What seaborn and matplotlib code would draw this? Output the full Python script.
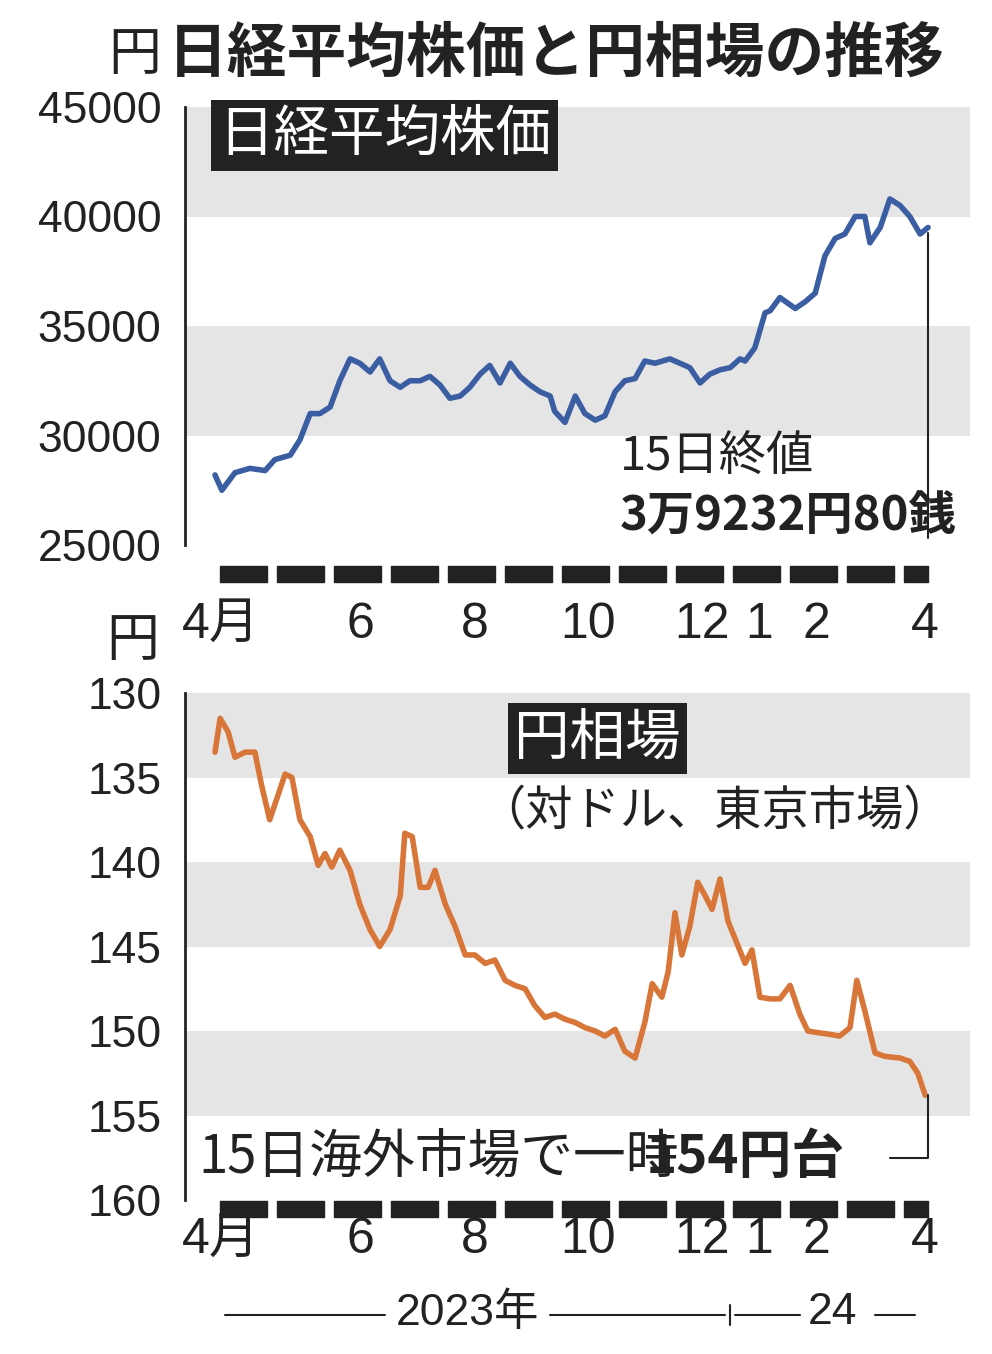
import numpy as np
import pandas as pd
import matplotlib
matplotlib.use("Agg")
import matplotlib.pyplot as plt
import seaborn as sns

# x in months since 2023-04-01 (0 = start of April 2023)
nikkei_x = [0, 0.12, 0.35, 0.61, 0.88, 1.05, 1.32, 1.49, 1.67, 1.84, 2.02, 2.19, 2.37, 2.54, 2.72, 2.89, 3.07, 3.25, 3.42,
            3.6, 3.77, 3.95, 4.12, 4.3, 4.47, 4.65, 4.82, 5.0, 5.18, 5.35, 5.53, 5.7, 5.88, 5.96, 6.14, 6.32, 6.49,
            6.67, 6.84, 7.02, 7.19, 7.37, 7.54, 7.72, 7.98, 8.33, 8.51, 8.68, 8.86, 9.04, 9.21, 9.3, 9.47, 9.65, 9.74,
            9.91, 10.18, 10.35, 10.53, 10.7, 10.88, 11.05, 11.23, 11.4, 11.49, 11.67, 11.84, 12.02, 12.19, 12.37, 12.51]
nikkei_y = [28200, 27500, 28300, 28500, 28400, 28900, 29100, 29800, 31000, 31000, 31300, 32500, 33500, 33300, 32900,
            33500, 32500, 32200, 32500, 32500, 32700, 32300, 31700, 31800, 32200, 32800, 33200, 32400, 33300, 32700,
            32300, 32000, 31800, 31100, 30600, 31800, 31000, 30700, 30900, 32000, 32500, 32600, 33400, 33300, 33500,
            33100, 32400, 32800, 33000, 33100, 33500, 33400, 34000, 35600, 35700, 36300, 35800, 36100, 36500, 38200,
            39000, 39200, 40000, 40000, 38800, 39500, 40800, 40500, 40000, 39200, 39500]

yen_x = [0, 0.09, 0.23, 0.35, 0.53, 0.7, 0.82, 0.96, 1.11, 1.23, 1.35, 1.49, 1.67, 1.81, 1.93, 2.05, 2.19, 2.37, 2.54,
         2.72, 2.89, 3.07, 3.25, 3.33, 3.46, 3.6, 3.74, 3.86, 4.04, 4.21, 4.39, 4.56, 4.74, 4.91, 5.09, 5.26, 5.44,
         5.61, 5.79, 5.96, 6.14, 6.32, 6.49, 6.67, 6.84, 7.02, 7.19, 7.37, 7.54, 7.67, 7.84, 7.95, 8.07, 8.19, 8.33,
         8.47, 8.6, 8.72, 8.86, 9.0, 9.12, 9.3, 9.42, 9.56, 9.74, 9.91, 10.09, 10.26, 10.4, 10.58, 10.79, 10.96,
         11.14, 11.26, 11.4, 11.58, 11.75, 12.02, 12.19, 12.33, 12.46]
yen_y = [133.5, 131.5, 132.3, 133.8, 133.5, 133.5, 135.5, 137.5, 136.0, 134.8, 135.0, 137.5, 138.5, 140.2, 139.5,
         140.3, 139.3, 140.5, 142.5, 144.0, 145.0, 144.0, 142.0, 138.3, 138.5, 141.5, 141.5, 140.5, 142.5, 143.8,
         145.5, 145.5, 146.0, 145.8, 147.0, 147.3, 147.5, 148.5, 149.2, 149.0, 149.3, 149.5, 149.8, 150.0, 150.3,
         149.9, 151.2, 151.6, 149.5, 147.2, 148.0, 146.5, 143.0, 145.5, 143.8, 141.2, 142.0, 142.8, 141.0, 143.5,
         144.5, 146.0, 145.2, 148.0, 148.1, 148.1, 147.3, 149.0, 150.0, 150.1, 150.2, 150.3, 149.8, 147.0, 148.8,
         151.3, 151.5, 151.6, 151.8, 152.5, 153.8]

month_labels = ["4月", "6", "8", "10", "12", "1", "2", "4"]
month_pos = [0, 2, 4, 6, 8, 9, 10, 12]

nikkei_ticks = [25000, 30000, 35000, 40000, 45000]
yen_ticks = [130, 135, 140, 145, 150, 155, 160]

df_n = pd.DataFrame({"m": nikkei_x, "v": nikkei_y})
df_y = pd.DataFrame({"m": yen_x, "v": yen_y})

sns.set_style("white")
plt.rcParams["font.family"] = ["Noto Sans CJK JP", "DejaVu Sans"]
LAT = ["Liberation Sans", "Noto Sans CJK JP"]
INK = "#222222"

W, H = 992, 1354
fig = plt.figure(figsize=(W / 100, H / 100), dpi=100)


def px(x, y):
    return x / W, 1 - y / H


def axes_px(l, t, r, b):
    return fig.add_axes([l / W, 1 - b / H, (r - l) / W, (b - t) / H])


XMIN, XMAX = (185 - 215) / 57, (970 - 215) / 57
GRAY = "#e5e5e5"


def style_axis(ax, ticks, bands, bar_y, label_y):
    for a, b in bands:
        ax.axhspan(a, b, color=GRAY, lw=0, zorder=0)
    ax.set_xlim(XMIN, XMAX)
    for s in ["top", "right", "bottom"]:
        ax.spines[s].set_visible(False)
    ax.spines["left"].set_linewidth(2)
    ax.spines["left"].set_color(INK)
    ax.set_yticks(ticks)
    ax.set_yticklabels([str(t) for t in ticks], family=LAT, fontsize=32, color=INK)
    ax.tick_params(axis="y", length=14, width=2, color=INK, pad=3)
    ax.set_xticks([])
    ax.set_xlabel("")
    ax.set_ylabel("")
    # month dash bar
    segs = [(m + 0.08, 0.84) for m in range(12)] + [(12.08, 0.42)]
    ax.broken_barh(segs, bar_y, transform=ax.get_xaxis_transform(), color=INK, clip_on=False)
    for lab, m in zip(month_labels, month_pos):
        xx = m + 0.1 if lab == "4月" else (m + 0.45 if m == 12 else m + 0.55)
        ax.text(xx, label_y, lab, transform=ax.get_xaxis_transform(), ha="center", va="center",
                fontsize=36, family=LAT, color=INK)


# top panel
ax1 = axes_px(185, 107, 970, 545)
sns.lineplot(data=df_n, x="m", y="v", ax=ax1, color="#3b5ea3", lw=4)
ax1.set_ylim(25000, 45000)
style_axis(ax1, nikkei_ticks, [(40000, 45000), (30000, 35000)], (-0.085, 0.037), -0.183)
ax1.plot([12.51, 12.51], [39232, 25300], color=INK, lw=1.5)
ax1.text(0.05, 43700, "日経平均株価", fontsize=40, color="white", va="center", ha="left",
         bbox=dict(boxstyle="square,pad=0.12", fc=INK, ec="none"))
ax1.text(7.1, 29000, "15日終値", fontsize=34, color=INK, va="center")
ax1.text(7.1, 26300, "3万9232円80銭", fontsize=34, weight="bold", color=INK, va="center")

# bottom panel
ax2 = axes_px(185, 693, 970, 1200)
sns.lineplot(data=df_y, x="m", y="v", ax=ax2, color="#d8763a", lw=4)
ax2.set_ylim(160, 130)
style_axis(ax2, yen_ticks, [(130, 135), (140, 145), (150, 155)], (-0.034, 0.032), -0.079)
ax2.plot([12.5, 12.5, 11.85], [153.8, 157.5, 157.5], color=INK, lw=1.5)
ax2.text(5.25, 132.7, "円相場", fontsize=40, color="white", va="center", ha="left",
         bbox=dict(boxstyle="square,pad=0.12", fc=INK, ec="none"))
ax2.text(12.9, 137.0, "（対ドル、東京市場）", fontsize=34, color=INK, va="center", ha="right")
ax2.text(-0.3, 157.5, "15日海外市場で一時", fontsize=38, color=INK, va="center")
ax2.text(7.55, 157.5, "154円台", fontsize=38, weight="bold", color=INK, va="center")

# titles and unit labels
fig.text(*px(108, 55), "円", fontsize=38, va="center", color=INK)
fig.text(*px(168, 55), "日経平均株価と円相場の推移", fontsize=43, weight="bold", va="center", color=INK)
fig.text(*px(106, 640), "円", fontsize=38, va="center", color=INK)

# year line
fig.text(*px(467, 1313), "2023年", fontsize=32, family=LAT, ha="center", va="center", color=INK)
fig.text(*px(832, 1313), "24", fontsize=32, family=LAT, ha="center", va="center", color=INK)
for x0, x1 in [(225, 385), (550, 725), (735, 800), (875, 915)]:
    fig.add_artist(plt.Line2D([x0 / W, x1 / W], [1 - 1315 / H] * 2, color=INK, lw=1.5))
fig.add_artist(plt.Line2D([730 / W] * 2, [1 - 1305 / H, 1 - 1325 / H], color=INK, lw=1.5))

fig.savefig("out.png", dpi=100)
